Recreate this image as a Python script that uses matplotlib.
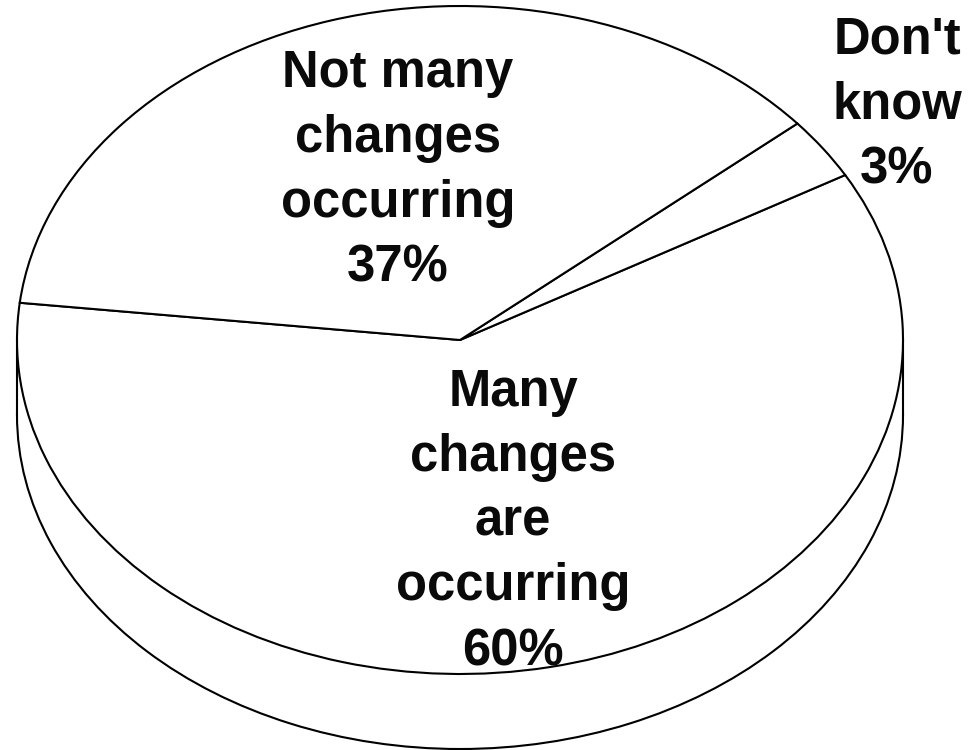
import matplotlib
matplotlib.use('Agg')
import matplotlib.pyplot as plt

labels = ["Many\nchanges\nare\noccurring\n60%", "Don't\nknow\n3%", "Not many\nchanges\noccurring\n37%"]
values = [60, 3, 37]

# pixel layout of the tilted pie
W, H = 972, 750
cx, cy = 460, 340
rx, ry = 443, 334
depth = 75

fig = plt.figure(figsize=(W / 100, H / 100), dpi=100)
ax = fig.add_axes([0, 0, 1, 1])

# side wall first, then the top face over it
ax.pie([1], radius=1, center=(0, -depth / ry), wedgeprops=dict(facecolor='white', edgecolor='black', linewidth=1.5, zorder=1))
ax.fill_between([-1, 1], [-depth / ry, -depth / ry], [0, 0], color='white', lw=0, zorder=1.5)
ax.plot([-1, -1], [0, -depth / ry], color='black', lw=1.5, zorder=1.6)
ax.plot([1, 1], [0, -depth / ry], color='black', lw=1.5, zorder=1.6)
ax.pie(values, radius=1, startangle=173.6, wedgeprops=dict(facecolor='white', edgecolor='black', linewidth=1.5, zorder=2))

# stretch the circle into an ellipse
ax.set_aspect('auto')
ax.set_xlim(-cx / rx, (W - cx) / rx)
ax.set_ylim((cy - H) / ry, cy / ry)
ax.axis('off')

text_pos = [(513, 522), (897, 105), (398, 171)]
for lab, (x, y) in zip(labels, text_pos):
    fig.text(x / W, 1 - y / H, lab, ha='center', va='center', family='Liberation Sans',
             fontsize=36.5, fontweight='bold', color='#0a0a0a', linespacing=1.415)

fig.savefig('out.png', dpi=100)
